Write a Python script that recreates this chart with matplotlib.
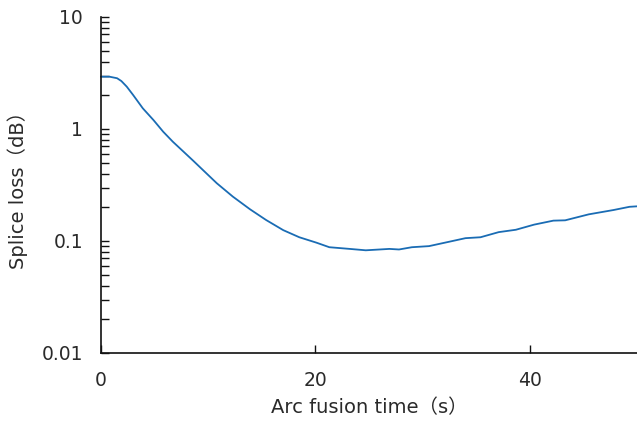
import matplotlib
matplotlib.use("Agg")
import matplotlib.pyplot as plt
from matplotlib.ticker import LogLocator, NullFormatter, FixedLocator, FixedFormatter

plt.rcParams['font.family'] = ['DejaVu Sans', 'Noto Sans CJK JP']

# Splice loss versus arc fusion time
fusion_time = [0.0, 0.8, 1.5, 1.9, 2.4, 3.0, 3.9, 4.9, 5.8, 6.7, 7.7, 8.6, 9.5,
               10.8, 12.3, 13.9, 15.4, 17.0, 18.5, 20.1, 21.3, 23.2, 24.7,
               26.9, 27.8, 29.0, 30.6, 32.5, 34.0, 35.4, 37.1, 38.7, 40.4, 42.2,
               43.3, 45.5, 47.8, 49.3, 50.0]
splice_loss = [2.93, 2.93, 2.84, 2.68, 2.39, 2.01, 1.53, 1.20, 0.946, 0.770, 0.627,
               0.521, 0.431, 0.328, 0.249, 0.192, 0.154, 0.125, 0.108, 0.0966,
               0.088, 0.085, 0.0826, 0.085, 0.084, 0.088, 0.090, 0.0986, 0.106, 0.108,
               0.120, 0.126, 0.140, 0.152, 0.153, 0.173, 0.189, 0.202, 0.204]

x_ticks = [0, 20, 40]
y_ticks = [0.01, 0.1, 1, 10]
y_tick_labels = ['0.01', '0.1', '1', '10']

text_color = '#2a2a2a'

fig = plt.figure(figsize=(6.37, 4.23), dpi=100)
ax = fig.add_axes([101 / 637, 1 - 353 / 423, 536 / 637, 336 / 423])

ax.plot(fusion_time, splice_loss, color='#1a6cb4', linewidth=1.3,
        solid_joinstyle='round', clip_on=False)

ax.set_yscale('log')
ax.set_xlim(0, 50)
ax.set_ylim(0.01, 10)

ax.xaxis.set_major_locator(FixedLocator(x_ticks))
ax.set_xticklabels([str(v) for v in x_ticks])
ax.yaxis.set_major_locator(FixedLocator(y_ticks))
ax.yaxis.set_major_formatter(FixedFormatter(y_tick_labels))
ax.yaxis.set_minor_locator(LogLocator(base=10, subs=range(2, 10)))
ax.yaxis.set_minor_formatter(NullFormatter())

for side in ('top', 'right'):
    ax.spines[side].set_visible(False)
for side in ('left', 'bottom'):
    ax.spines[side].set_linewidth(1.2)
    ax.spines[side].set_color('#111111')

ax.tick_params(axis='both', which='both', direction='in', length=5.5, width=1.0,
               color='#111111', labelsize=13.5, labelcolor=text_color)
ax.tick_params(axis='x', pad=13)
ax.tick_params(axis='y', pad=13)

ax.set_xlabel('Arc fusion time（s）', fontsize=14, color=text_color, labelpad=6)
ax.set_ylabel('Splice loss（dB）', fontsize=14, color=text_color, labelpad=10)

fig.savefig('out.png', dpi=100, facecolor='white')
